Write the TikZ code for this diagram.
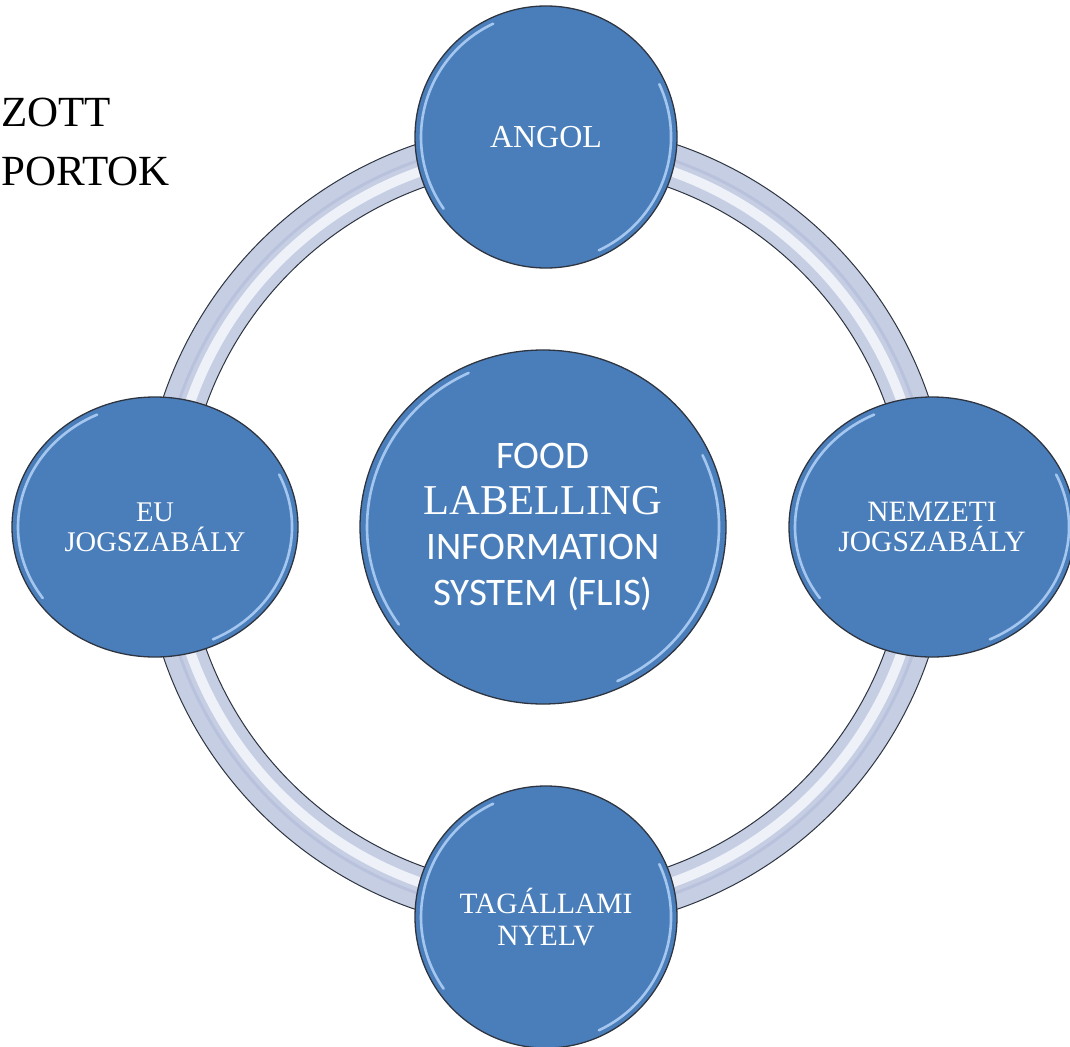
\documentclass[tikz,border=0pt]{standalone}
\usepackage{fontspec}
\setmainfont{Liberation Serif}
\newfontfamily\calib{Carlito}
\usetikzlibrary{shapes.geometric,calc}
\definecolor{bubble}{HTML}{4A7EBB}
\definecolor{rimhl}{HTML}{B5D3F7}
\definecolor{edgecol}{HTML}{2E3540}
\definecolor{ringfill}{HTML}{C6CEE3}
\definecolor{ringhl}{HTML}{EEF1F8}
\definecolor{ringmid}{HTML}{AEB8D6}
\newcommand\rimarcs[3]{%
  \draw[rim] ($(#1.center)+(145:#2 and #3)$) arc[start angle=145,end angle=245,x radius=#2,y radius=#3];
  \draw[rim] ($(#1.center)+(-25:#2 and #3)$) arc[start angle=-25,end angle=65,x radius=#2,y radius=#3];}
\begin{document}
\begin{tikzpicture}[x=1pt,y=-1pt,
  bub/.style={ellipse, draw=edgecol, line width=1.3pt, fill=bubble, inner sep=0pt, text=white, align=center},
  rim/.style={rimhl, line width=2.6pt, line cap=round, opacity=0.85},
  ttl/.style={anchor=base west, inner sep=0pt, font=\fontsize{43}{50}\selectfont}]
\clip (0,0) rectangle (1070,1046);
\fill[white] (0,0) rectangle (1070,1046);
% title fragments
\node[ttl] (t1) at (1,127) {ZOTT};
\node[ttl] (t2) at (1,185) {PORTOK};
% ring
\coordinate (c) at (546,527);
\fill[ringfill, even odd rule] (c) circle[radius=404pt] (c) circle[radius=361pt];
\draw[ringhl, line width=10pt] (c) circle[radius=377pt];
\draw[ringmid, line width=3pt, opacity=.5] (c) circle[radius=388pt];
\draw[edgecol, line width=1pt] (c) circle[radius=404pt] (c) circle[radius=361pt];
% bubbles
\node[bub, minimum width=262pt, minimum height=262pt, font=\fontsize{32}{36}\selectfont] (angol) at (546,137) {ANGOL};
\node[bub, minimum width=286pt, minimum height=260pt, font=\fontsize{28.5}{30}\selectfont] (eu) at (155,527) {EU\\JOGSZABÁLY};
\node[bub, minimum width=286pt, minimum height=260pt, font=\fontsize{29.5}{30.5}\selectfont] (nemz) at (932,527) {NEMZETI\\JOGSZABÁLY};
\node[bub, minimum width=262pt, minimum height=262pt, font=\fontsize{29.5}{32}\selectfont] (tag) at (546,917) {TAGÁLLAMI\\NYELV};
\node[bub, minimum width=366pt, minimum height=354pt, font=\fontsize{39}{45.5}\selectfont] (flis) at (543,527)
  {{\calib FOOD}\\{\fontsize{42.5}{45.5}\selectfont LABELLING}\\{\calib INFORMATION}\\{\calib SYSTEM (FLIS)}};
\rimarcs{angol}{125}{125}
\rimarcs{eu}{137}{124}
\rimarcs{nemz}{137}{124}
\rimarcs{tag}{125}{125}
\rimarcs{flis}{176}{170}
\end{tikzpicture}
\end{document}
